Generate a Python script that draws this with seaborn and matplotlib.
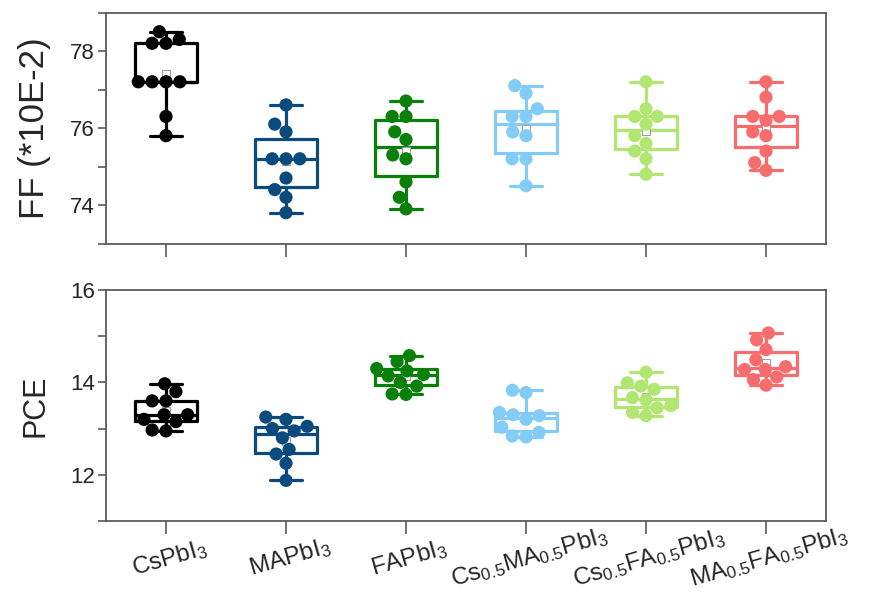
import numpy as np
import pandas as pd
import matplotlib
matplotlib.use("Agg")
import matplotlib.pyplot as plt
from matplotlib.ticker import MultipleLocator
import seaborn as sns

categories = ["CsPbI3", "MAPbI3", "FAPbI3", "Cs0.5MA0.5PbI3", "Cs0.5FA0.5PbI3", "MA0.5FA0.5PbI3"]
tick_labels = [r"CsPbI$_3$", r"MAPbI$_3$", r"FAPbI$_3$",
               r"Cs$_{0.5}$MA$_{0.5}$PbI$_3$", r"Cs$_{0.5}$FA$_{0.5}$PbI$_3$",
               r"MA$_{0.5}$FA$_{0.5}$PbI$_3$"]
colors = ["#000000", "#0b4a7c", "#0a800a", "#84ccf8", "#b2e673", "#f76c6c"]

ff_cspbi3 = [78.5, 78.3, 78.2, 78.2, 77.2, 77.2, 77.2, 77.2, 76.3, 75.8]
ff_mapbi3 = [76.6, 76.1, 75.9, 75.2, 75.2, 75.2, 74.7, 74.4, 74.2, 73.8]
ff_fapbi3 = [76.7, 76.3, 76.3, 75.9, 75.7, 75.3, 75.2, 74.6, 74.2, 73.9]
ff_csma = [77.1, 76.9, 76.5, 76.3, 76.3, 75.9, 75.8, 75.2, 75.2, 74.5]
ff_csfa = [77.2, 76.5, 76.3, 76.3, 76.1, 75.8, 75.6, 75.4, 75.2, 74.8]
ff_mafa = [77.2, 76.8, 76.3, 76.3, 76.2, 75.9, 75.8, 75.4, 75.1, 74.9]

pce_cspbi3 = [13.97, 13.8, 13.6, 13.6, 13.3, 13.3, 13.2, 13.15, 12.97, 12.95]
pce_mapbi3 = [13.25, 13.2, 13.05, 13.0, 12.95, 12.8, 12.55, 12.45, 12.25, 11.88]
pce_fapbi3 = [14.58, 14.45, 14.3, 14.25, 14.17, 14.14, 14.0, 13.92, 13.75, 13.74]
pce_csma = [13.83, 13.78, 13.35, 13.3, 13.28, 13.2, 13.03, 12.92, 12.84, 12.82]
pce_csfa = [14.22, 13.99, 13.92, 13.85, 13.67, 13.62, 13.5, 13.45, 13.35, 13.28]
pce_mafa = [15.07, 14.92, 14.71, 14.49, 14.34, 14.28, 14.28, 14.12, 14.06, 13.94]

ff_series = [ff_cspbi3, ff_mapbi3, ff_fapbi3, ff_csma, ff_csfa, ff_mafa]
pce_series = [pce_cspbi3, pce_mapbi3, pce_fapbi3, pce_csma, pce_csfa, pce_mafa]


def long_df(series):
    rows = []
    for cat, vals in zip(categories, series):
        for v in vals:
            rows.append((cat, v))
    return pd.DataFrame(rows, columns=["cat", "val"])


sns.set_theme(style="ticks")
plt.rcParams["font.family"] = ["Liberation Sans", "DejaVu Sans"]
plt.rcParams["mathtext.fontset"] = "custom"
plt.rcParams["mathtext.rm"] = "Liberation Sans"
plt.rcParams["mathtext.it"] = "Liberation Sans:italic"
plt.rcParams["mathtext.bf"] = "Liberation Sans:bold"

fig = plt.figure(figsize=(8.78, 5.92), dpi=100)
ax1 = fig.add_axes([106 / 878, 1 - 243.5 / 592, 720 / 878, 231 / 592])
ax2 = fig.add_axes([106 / 878, 1 - 521 / 592, 720 / 878, 231 / 592])

palette = dict(zip(categories, colors))
spine_col = "#5a5a5a"

for ax, series, ylim, ylabel, lsize in [(ax1, ff_series, (73, 79), "FF (*10E-2)", 25),
                                        (ax2, pce_series, (11, 16), "PCE", 22)]:
    df = long_df(series)
    sns.boxplot(data=df, x="cat", y="val", hue="cat", palette=palette, order=categories,
                hue_order=categories, fill=False, width=0.52, linewidth=2.3,
                whis=(0, 100), showfliers=False, showmeans=True,
                meanprops=dict(marker="s", markerfacecolor="white", markeredgecolor="#a0a0a0",
                               markersize=6, markeredgewidth=0.8),
                legend=False, ax=ax, zorder=2)
    sns.swarmplot(data=df, x="cat", y="val", hue="cat", palette=palette, order=categories,
                  hue_order=categories, size=9.5, legend=False, ax=ax, zorder=3)
    ax.set_xlim(-0.5, 5.5)
    ax.set_ylim(*ylim)
    ax.yaxis.set_major_locator(MultipleLocator(2))
    ax.yaxis.set_minor_locator(MultipleLocator(1))
    ax.set_xlabel("")
    ax.set_ylabel(ylabel, fontsize=lsize)
    ax.yaxis.set_label_coords(-0.077, 0.5)
    for sp in ax.spines.values():
        sp.set_color(spine_col)
        sp.set_linewidth(1.3)
        sp.set_visible(True)
    ax.tick_params(axis="y", which="both", direction="out", length=6, width=1.2,
                   color=spine_col, pad=2, labelsize=16)
    ax.tick_params(axis="x", which="both", direction="out", length=9, width=1.2,
                   color=spine_col)

ax1.set_xticks(range(len(categories)))
ax1.set_xticklabels([])
ax2.set_xticks(range(len(categories)))
ax2.set_xticklabels(tick_labels, fontsize=17.5, rotation=16, ha="center",
                    rotation_mode="anchor", va="top")
ax2.tick_params(axis="x", pad=9)

fig.savefig("out.png", dpi=100)
